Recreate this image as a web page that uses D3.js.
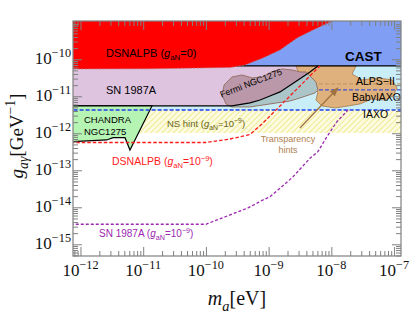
<!DOCTYPE html>
<html>
<head>
<meta charset="utf-8">
<script src="https://cdn.jsdelivr.net/npm/d3@7"></script>
<style>
body { margin: 0; background: #fff; }
svg { display: block; }
</style>
</head>
<body>
<div id="chart"></div>
<script>
// axis ranges, eV and GeV^-1
var massRange = [7.6e-13, 1.29e-7];
var couplingRange = [4.83e-16, 1.08e-9];
var massTicks = [1e-12, 1e-11, 1e-10, 1e-9, 1e-8, 1e-7];
var massTickExp = ["\u221212", "\u221211", "\u221210", "\u22129", "\u22128", "\u22127"];
var couplingTicks = [1e-10, 1e-11, 1e-12, 1e-13, 1e-14, 1e-15];
var couplingTickExp = ["\u221210", "\u221211", "\u221212", "\u221213", "\u221214", "\u221215"];

// limits, [mass, coupling]
var castLimit = 6.6e-11;
var iaxoLevel = 4.27e-12;
var babyIaxoLevel = 1.48e-11;
var alpsLevel = 2.15e-11;
var nsHint = [1.02e-12, 4.27e-12];

var dsnalpbZero = [[7.0e-13, 5.47e-11], [1.28e-11, 5.5e-11], [2.43e-10, 6.0e-11], [4.2e-10, 7.0e-11],
  [8.1e-10, 1.08e-10], [1.52e-9, 1.78e-10], [2.84e-9, 3.77e-10], [5.1e-9, 6.2e-10], [1.06e-8, 1.1e-9], [1.3e-8, 2e-9]];

var sn1987a = [[7.0e-13, 5.47e-12], [2.6e-10, 5.47e-12], [5.05e-10, 6.6e-12], [7.3e-10, 7.9e-12],
  [1.05e-9, 1.02e-11], [1.52e-9, 1.31e-11], [2.64e-9, 2.43e-11], [4.56e-9, 4.54e-11], [6.1e-9, 6.6e-11]];

var chandra = [[7.0e-13, 5.47e-12], [1.38e-11, 5.47e-12], [6.15e-12, 3.54e-13], [5.13e-12, 7.6e-13],
  [3.3e-12, 7.6e-13], [2.62e-12, 6.6e-13], [7.0e-13, 5.93e-13]];

var fermi = [[2.09e-10, 6.2e-12], [1.81e-10, 1.08e-11], [1.95e-10, 2.02e-11], [2.61e-10, 3.33e-11],
  [3.77e-10, 3.77e-11], [5.43e-10, 3.13e-11], [7.85e-10, 3.33e-11], [1.13e-9, 4.54e-11],
  [1.64e-9, 5.47e-11], [2.36e-9, 5.14e-11], [3.16e-9, 4.54e-11], [3.94e-9, 4.54e-11],
  [4.56e-9, 3.54e-11], [5.68e-9, 2.43e-11], [6.1e-9, 1.48e-11], [5.47e-9, 1.23e-11],
  [3.16e-9, 9.0e-12], [2.2e-9, 7.46e-12], [1.05e-9, 6.2e-12], [5.05e-10, 5.14e-12], [2.61e-10, 5.14e-12]];

var transparency = [[2.73e-9, 6.6e-11], [2.48e-8, 6.6e-11], [2.14e-8, 4.0e-11], [3.09e-8, 2.76e-11],
  [5.56e-8, 3.13e-11], [9.3e-8, 2.76e-11], [1.12e-7, 1.67e-11], [9.6e-8, 1.02e-11],
  [7.2e-8, 7.9e-12], [4.45e-8, 8.45e-12], [2.86e-8, 6.2e-12], [1.84e-8, 5.47e-12],
  [1.15e-8, 4.83e-12], [7.1e-9, 5.47e-12], [5.68e-9, 7.9e-12], [6.1e-9, 1.31e-11],
  [4.56e-9, 2.15e-11], [3.16e-9, 3.54e-11]];
var transparencyArrow = [[3.16e-9, 1.39e-12], [1.27e-8, 1.67e-11]];

var dsnalpbHint = [[7.0e-13, 5.64e-13], [1.0e-10, 5.64e-13], [2.43e-10, 7.0e-13], [5.05e-10, 9.3e-13],
  [7.85e-10, 1.78e-12], [1.52e-9, 5.47e-12], [3.16e-9, 1.9e-11], [6.58e-9, 6.6e-11]];

var snHint = [[7.0e-13, 3.48e-15], [1.0e-10, 3.48e-15], [4.68e-10, 9.6e-15], [7.85e-10, 1.53e-14],
  [1.05e-9, 1.93e-14], [1.52e-9, 3.27e-14], [2.45e-9, 6.7e-14], [4.56e-9, 2.11e-13],
  [6.1e-9, 3.18e-13], [8.5e-9, 8.1e-13], [1.23e-8, 2.06e-12], [1.84e-8, 4.27e-12]];

var width = 411, height = 315;
var x = d3.scaleLog().domain(massRange).range([73, 401]);
var y = d3.scaleLog().domain(couplingRange).range([256, 21]);
var mLo = 5e-13, mHi = 2e-7, gHi = 3e-9;

var svg = d3.select("#chart").append("svg")
    .attr("width", width)
    .attr("height", height);

var defs = svg.append("defs");
defs.append("clipPath").attr("id", "plotClip")
    .append("rect").attr("x", 73).attr("y", 21).attr("width", 328).attr("height", 235);

var hatch = defs.append("pattern").attr("id", "hatch")
    .attr("patternUnits", "userSpaceOnUse")
    .attr("width", 4).attr("height", 4)
    .attr("patternTransform", "rotate(45)");
hatch.append("rect").attr("width", 4).attr("height", 4).attr("fill", "#fcfbe2");
hatch.append("line").attr("x1", 0).attr("y1", 0).attr("x2", 0).attr("y2", 4)
    .attr("stroke", "#efe87c").attr("stroke-width", 1.6);

defs.append("marker").attr("id", "arrowHead")
    .attr("viewBox", "0 0 10 10").attr("refX", 9).attr("refY", 5)
    .attr("markerWidth", 7).attr("markerHeight", 7)
    .attr("orient", "auto")
    .append("path").attr("d", "M0,1 L10,5 L0,9 Z").attr("fill", "#a2733f");

var line = d3.line().x(function(d) { return x(d[0]); }).y(function(d) { return y(d[1]); });
var shape = function(pts) { return line(pts) + "Z"; };

// region under the SN 1987A line, used to tint Fermi
var belowSN = sn1987a.concat([[mHi, castLimit], [mHi, 1e-17], [mLo, 1e-17]]);
defs.append("clipPath").attr("id", "belowSN").append("path").attr("d", shape(belowSN));

var plot = svg.append("g").attr("clip-path", "url(#plotClip)");

// NS hint band
plot.append("path")
    .attr("d", shape([[mLo, nsHint[0]], [mHi, nsHint[0]], [mHi, nsHint[1]], [mLo, nsHint[1]]]))
    .attr("fill", "url(#hatch)");

// IAXO / BabyIAXO sensitivity band
plot.append("path")
    .attr("d", shape([[mLo, iaxoLevel], [mHi, iaxoLevel], [mHi, castLimit], [mLo, castLimit]]))
    .attr("fill", "#c9eef8");

// SN 1987A
plot.append("path")
    .attr("d", shape(sn1987a.concat([[6.1e-9, gHi], [mLo, gHi]])))
    .attr("fill", "#dfc4e0");

// CAST
plot.append("path")
    .attr("d", shape([[mLo, castLimit], [mHi, castLimit], [mHi, gHi], [mLo, gHi]]))
    .attr("fill", "#809ff4");

// Transparency hints
plot.append("path").attr("d", shape(transparency))
    .attr("fill", "#dfb17c").attr("stroke", "#a8794a").attr("stroke-width", 0.8);

plot.append("path").attr("d", line([[5.1e-9, alpsLevel], [mHi, alpsLevel]]))
    .attr("fill", "none").attr("stroke", "#c39a6b").attr("stroke-width", 1.2).attr("stroke-dasharray", "4,2");
plot.append("path").attr("d", line([[5.1e-9, babyIaxoLevel], [mHi, babyIaxoLevel]]))
    .attr("fill", "none").attr("stroke", "#4352d6").attr("stroke-width", 1.3).attr("stroke-dasharray", "4,2");

plot.append("path").attr("d", line([[mLo, castLimit], [mHi, castLimit]]))
    .attr("fill", "none").attr("stroke", "#000").attr("stroke-width", 1.2);

// DSNALPB, g_aN = 0
plot.append("path")
    .attr("d", shape(dsnalpbZero.concat([[1.3e-8, gHi], [mLo, gHi]])))
    .attr("fill", "#ff0000");
plot.append("path").attr("d", line(dsnalpbZero))
    .attr("fill", "none").attr("stroke", "#b86a6a").attr("stroke-width", 0.8).attr("stroke-dasharray", "2,1.5");

// Fermi NGC1275
plot.append("path").attr("d", shape(fermi)).attr("fill", "#bb98a9");
plot.append("path").attr("d", shape(fermi)).attr("fill", "#abc5c9")
    .attr("clip-path", "url(#belowSN)");
plot.append("path").attr("d", shape(fermi))
    .attr("fill", "none").attr("stroke", "#8a6352").attr("stroke-width", 0.8);

plot.append("path").attr("d", line(sn1987a))
    .attr("fill", "none").attr("stroke", "#000").attr("stroke-width", 1.2);

// CHANDRA NGC1275
plot.append("path").attr("d", shape(chandra))
    .attr("fill", "#b6f4b3").attr("stroke", "#000").attr("stroke-width", 1.2);

plot.append("path").attr("d", line([[mLo, iaxoLevel], [mHi, iaxoLevel]]))
    .attr("fill", "none").attr("stroke", "#1f3ff0").attr("stroke-width", 1.4).attr("stroke-dasharray", "4,2");

plot.append("path").attr("d", line(dsnalpbHint))
    .attr("fill", "none").attr("stroke", "#ff1a1a").attr("stroke-width", 1.3).attr("stroke-dasharray", "3.5,2");
plot.append("path").attr("d", line(snHint))
    .attr("fill", "none").attr("stroke", "#9d27b0").attr("stroke-width", 1.3).attr("stroke-dasharray", "3,2");

plot.append("path").attr("d", line(transparencyArrow))
    .attr("fill", "none").attr("stroke", "#a2733f").attr("stroke-width", 1.3)
    .attr("marker-end", "url(#arrowHead)");

// text with sub/superscripts: segments [text, kind]
var rich = function(parent, px, py, segs, size, attrs) {
    var t = parent.append("text").attr("x", px).attr("y", py)
        .attr("font-size", size);
    for (var k in attrs) t.attr(k, attrs[k]);
    var shift = 0;
    segs.forEach(function(s) {
        var want = 0, fs = size, style = null;
        if (s[1].indexOf("sub") >= 0) { want = size * 0.28; fs = size * 0.72; }
        if (s[1].indexOf("sup") >= 0) { want = -size * 0.42; fs = size * 0.72; }
        if (s[1].indexOf("i") === 0) style = "italic";
        var ts = t.append("tspan").attr("dy", want - shift).attr("font-size", fs).text(s[0]);
        if (style) ts.attr("font-style", style);
        shift = want;
    });
    return t;
};

var sans = {"font-family": "Liberation Sans, Arial, sans-serif"};
var labels = svg.append("g");
rich(labels, 106, 57, [["DSNALPB (", ""], ["g", "i"], ["aN", "sub"], ["=0)", ""]], 11, sans);
rich(labels, 106, 94, [["SN 1987A", ""]], 11, sans);
labels.append("text").attr("x", 345).attr("y", 61).attr("font-size", 13.5)
    .attr("font-weight", "bold").attr("font-family", sans["font-family"]).text("CAST");
labels.append("text").attr("transform", "translate(252,86) rotate(-21)")
    .attr("text-anchor", "middle").attr("font-size", 9).attr("font-family", sans["font-family"])
    .text("Fermi NGC1275");
rich(labels, 356, 85, [["ALPS\u2212II", ""]], 10.5, sans);
rich(labels, 352, 101, [["BabyIAXO", ""]], 10.5, sans);
rich(labels, 363, 118, [["IAXO", ""]], 10.5, sans);
rich(labels, 84, 123, [["CHANDRA", ""]], 9.5, sans);
rich(labels, 84, 135, [["NGC1275", ""]], 9.5, sans);
rich(labels, 167, 127, [["NS hint (", ""], ["g", "i"], ["aN", "sub"], ["=10", ""], ["\u22129", "sup"], [")", ""]], 9.5,
    {"font-family": sans["font-family"], "fill": "#6b6420"});
rich(labels, 112, 165, [["DSNALPB (", ""], ["g", "i"], ["aN", "sub"], ["=10", ""], ["\u22129", "sup"], [")", ""]], 10.5,
    {"font-family": sans["font-family"], "fill": "#ff1a1a"});
rich(labels, 99, 237, [["SN 1987A (", ""], ["g", "i"], ["aN", "sub"], ["=10", ""], ["\u22129", "sup"], [")", ""]], 10,
    {"font-family": sans["font-family"], "fill": "#9d27b0"});
labels.append("text").attr("x", 288).attr("y", 142).attr("text-anchor", "middle")
    .attr("font-size", 9).attr("fill", "#b08150").attr("font-family", sans["font-family"]).text("Transparency");
labels.append("text").attr("x", 288).attr("y", 153).attr("text-anchor", "middle")
    .attr("font-size", 9).attr("fill", "#b08150").attr("font-family", sans["font-family"]).text("hints");

// axes: inside ticks on all four sides
var minor = function(domain) {
    var out = [];
    for (var e = -17; e <= -6; e++)
        for (var k = 2; k <= 9; k++) {
            var v = k * Math.pow(10, e);
            if (v > domain[0] && v < domain[1]) out.push(v);
        }
    return out;
};
var axisCol = "#808080";
var drawAxis = function(axis, tr) {
    var g = svg.append("g").attr("transform", tr).call(axis);
    g.selectAll("path.domain").remove();
    g.selectAll("line").attr("stroke", axisCol);
    g.selectAll("text").remove();
};
drawAxis(d3.axisBottom(x).tickValues(massTicks).tickSize(-9), "translate(0,256)");
drawAxis(d3.axisBottom(x).tickValues(minor(massRange)).tickSize(-5), "translate(0,256)");
drawAxis(d3.axisTop(x).tickValues(massTicks).tickSize(-9), "translate(0,21)");
drawAxis(d3.axisTop(x).tickValues(minor(massRange)).tickSize(-5), "translate(0,21)");
drawAxis(d3.axisLeft(y).tickValues(couplingTicks).tickSize(-9), "translate(73,0)");
drawAxis(d3.axisLeft(y).tickValues(minor(couplingRange)).tickSize(-5), "translate(73,0)");
drawAxis(d3.axisRight(y).tickValues(couplingTicks).tickSize(-9), "translate(401,0)");
drawAxis(d3.axisRight(y).tickValues(minor(couplingRange)).tickSize(-5), "translate(401,0)");

svg.append("rect").attr("x", 73).attr("y", 21).attr("width", 328).attr("height", 235)
    .attr("fill", "none").attr("stroke", axisCol).attr("stroke-width", 1.2);

var serif = {"font-family": "Liberation Serif, Times New Roman, serif", "fill": "#111"};
massTicks.forEach(function(v, i) {
    rich(svg, x(v), 276, [["10", ""], [massTickExp[i], "sup"]], 17,
        Object.assign({"text-anchor": "middle"}, serif));
});
couplingTicks.forEach(function(v, i) {
    rich(svg, 71, y(v) + 5, [["10", ""], [couplingTickExp[i], "sup"]], 17,
        Object.assign({"text-anchor": "end"}, serif));
});

rich(svg, 237, 305, [["m", "i"], ["a", "isub"], ["[eV]", ""]], 20,
    Object.assign({"text-anchor": "middle"}, serif));
rich(svg, 0, 0, [["g", "i"], ["a\u03b3", "isub"], ["[GeV", ""], ["\u22121", "sup"], ["]", ""]], 19,
    Object.assign({"text-anchor": "middle", "transform": "translate(23,136) rotate(-90)"}, serif));
</script>
</body>
</html>
